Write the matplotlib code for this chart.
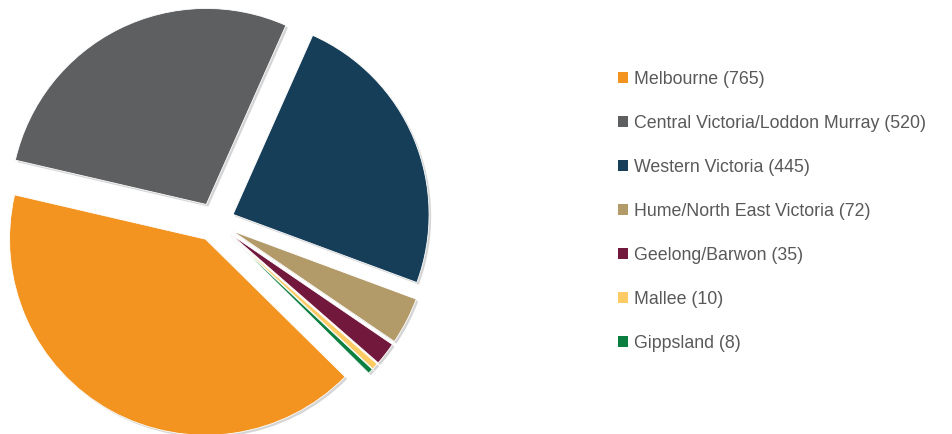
import matplotlib
matplotlib.use("Agg")
import matplotlib.pyplot as plt
from matplotlib.patches import Patch
import matplotlib.patheffects as pe

# data
regions = ["Melbourne", "Central Victoria/Loddon Murray", "Western Victoria",
           "Hume/North East Victoria", "Geelong/Barwon", "Mallee", "Gippsland"]
counts = [765, 520, 445, 72, 35, 10, 8]
colours = ["#F39320", "#5E5F61", "#173E58", "#B39A69", "#72183D", "#FECB65", "#0A7F3F"]

labels = ["%s (%d)" % (r, c) for r, c in zip(regions, counts)]

W, H = 953, 434
fig = plt.figure(figsize=(W / 100, H / 100), dpi=100)

# pie axes placed so the centre sits at ~(215, 222) px, radius ~196 px
cx, cy, r = 215, H - 222, 196
half = 1.2 * r
ax = fig.add_axes([(cx - half) / W, (cy - half) / H, 2 * half / W, 2 * half / H])
wedges, _ = ax.pie(counts, colors=colours, startangle=-44.6, counterclock=False,
                   explode=[0.1] * len(counts), radius=1,
                   wedgeprops=dict(edgecolor="white", linewidth=0.6))
for w in wedges:
    w.set_path_effects([pe.SimplePatchShadow(offset=(1.5, -1.5), shadow_rgbFace="#888888", alpha=0.35),
                        pe.Normal()])
ax.set_xlim(-1.2, 1.2)
ax.set_ylim(-1.2, 1.2)
ax.set_aspect("equal")
ax.axis("off")

handles = [Patch(facecolor=c, edgecolor="none") for c in colours]
leg = fig.legend(handles, labels, loc="upper left", bbox_to_anchor=(602 / W, 1 - 55 / H),
                 frameon=False, labelspacing=1.52,
                 handlelength=0.55, handleheight=0.55, handletextpad=0.36,
                 prop={"family": "Liberation Sans", "size": 12.8})
for t in leg.get_texts():
    t.set_color("#595959")

fig.savefig("out.png", dpi=100)
